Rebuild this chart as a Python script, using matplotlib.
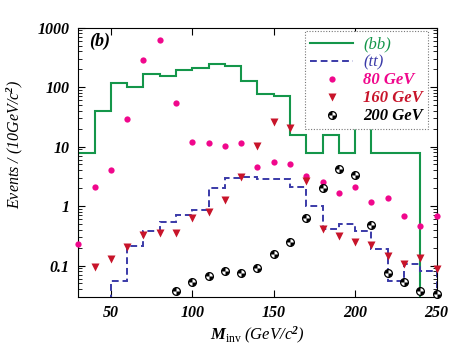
import numpy as np
import matplotlib
matplotlib.use("Agg")
import matplotlib.pyplot as plt
import matplotlib.path as mpath
from matplotlib.ticker import LogLocator, NullFormatter
from matplotlib.legend_handler import HandlerTuple

plt.rcParams['font.family'] = ['Liberation Serif']
plt.rcParams['font.style'] = 'italic'
plt.rcParams['font.weight'] = 'bold'
plt.rcParams['mathtext.fontset'] = 'custom'
plt.rcParams['mathtext.it'] = 'Liberation Serif:style=italic:weight=bold'
plt.rcParams['mathtext.rm'] = 'Liberation Serif:style=italic:weight=bold'
plt.rcParams['mathtext.sf'] = 'Liberation Serif:style=normal:weight=normal'

# background histograms, 10 GeV bins
bb_edges = np.arange(30, 250, 10)
bb_vals = [7.9, 39, 119, 101, 167, 156, 197, 213, 245, 230, 129, 76, 71,
           15.9, 7.9, 15.7, 7.9, 23.7, 7.9, 7.9, 7.9]
tt_edges = np.arange(50, 260, 10)
tt_vals = [0.054, 0.216, 0.385, 0.545, 0.71, 0.853, 1.99, 3.0, 3.1, 2.9, 2.9,
           2.1, 1.0, 0.41, 0.50, 0.385, 0.19, 0.054, 0.107, 0.082]

# signal points
m80 = np.arange(30, 260, 10)
s80 = [0.23, 2.1, 4.1, 29.5, 283, 611, 53, 11.9, 11.3, 10.4, 11.7, 4.6, 5.5,
       5.1, 3.2, 2.54, 1.63, 2.1, 1.15, 1.39, 0.69, 0.46, 0.69]
m160 = np.arange(40, 260, 10)
s160 = [0.093, 0.13, 0.203, 0.326, 0.35, 0.35, 0.62, 0.78, 1.27, 3.1, 10.4,
        25.6, 20.6, 2.64, 0.41, 0.32, 0.246, 0.22, 0.144, 0.108, 0.136, 0.086]
m200 = np.arange(90, 260, 10)
s200 = [0.038, 0.053, 0.066, 0.08, 0.075, 0.092, 0.157, 0.246, 0.63, 1.99,
        4.26, 3.3, 0.485, 0.075, 0.053, 0.038, 0.033]

green = '#14964a'
blue = '#3a3aa8'
pink = '#f0078c'
red = '#c8142a'

fig = plt.figure(figsize=(4.63, 3.54), dpi=100)
ax = fig.add_axes([0.169, 0.162, 0.774, 0.76])
ax.set_yscale('log')

ax.stairs(bb_vals, bb_edges, baseline=1e-4, color=green, lw=1.5, zorder=2)
ax.stairs(tt_vals, tt_edges, baseline=1e-4, color=blue, lw=1.4,
          linestyle=(0, (3.5, 2)), zorder=2)

ax.plot(m80, s80, 'o', color=pink, ms=4.5, mec='none', zorder=4, clip_on=False)
ax.plot(m160, s160, 'v', color=red, ms=6, mec='none', zorder=4, clip_on=False)

# half-black ball marker for 200 GeV
quad = mpath.Path.make_compound_path(mpath.Path.wedge(90, 180),
                                     mpath.Path.wedge(270, 360))
h200a, = ax.plot(m200, s200, 'o', mfc='white', mec='black', mew=0.9, ms=5.6,
                 zorder=5, clip_on=False)
h200b, = ax.plot(m200, s200, marker=quad, ls='none', color='black', ms=5.6,
                 mew=0, zorder=6, clip_on=False)

ax.set_xlim(30, 250)
ax.set_ylim(0.03, 1000)
ax.set_xticks([50, 100, 150, 200, 250])
ax.set_yticks([0.1, 1, 10, 100, 1000], ['0.1', '1', '10', '100', '1000'])
ax.yaxis.set_minor_locator(LogLocator(base=10, subs=np.arange(2, 10)))
ax.yaxis.set_minor_formatter(NullFormatter())
ax.tick_params(which='both', direction='in', top=True, right=True, labelsize=11.5)
ax.tick_params(which='major', length=5, pad=6)
ax.tick_params(which='minor', length=3)
for sp in ax.spines.values():
    sp.set_linewidth(0.8)

ax.set_xlabel(r'$M_{\mathsf{inv}}$ (GeV/c$^{2}$)', fontsize=12, labelpad=3)
ax.set_ylabel(r'Events / (10GeV/c$^{2}$)', fontsize=11.5)
ax.yaxis.set_label_coords(-0.148, 0.565)
ax.text(0.03, 0.95, '(b)', transform=ax.transAxes, fontsize=13, va='center')

h_bb = plt.Line2D([], [], color=green, lw=1.5)
h_tt = plt.Line2D([], [], color=blue, lw=1.4, linestyle=(0, (3.5, 2)))
h80 = plt.Line2D([], [], marker='o', ls='none', color=pink, ms=4.5, mec='none')
h160 = plt.Line2D([], [], marker='v', ls='none', color=red, ms=6, mec='none')
leg = ax.legend([h_bb, h_tt, h80, h160, (h200a, h200b)],
                ['(bb)', '(tt)', '80 GeV', '160 GeV', '200 GeV'],
                handler_map={tuple: HandlerTuple(ndivide=1, pad=0)},
                loc='upper right', bbox_to_anchor=(0.976, 0.986),
                fontsize=12, fancybox=False, framealpha=1, edgecolor='#777777',
                borderpad=0.3, labelspacing=0.12, handlelength=2.6,
                handletextpad=0.6, borderaxespad=0)
leg.get_frame().set_linestyle((0, (1, 1.5)))
leg.get_frame().set_linewidth(0.8)
for txt, c in zip(leg.get_texts(), [green, blue, pink, red, 'black']):
    txt.set_color(c)
for t in leg.get_texts()[:2]:
    t.set_fontweight('normal')

fig.savefig('out.png', dpi=100)
